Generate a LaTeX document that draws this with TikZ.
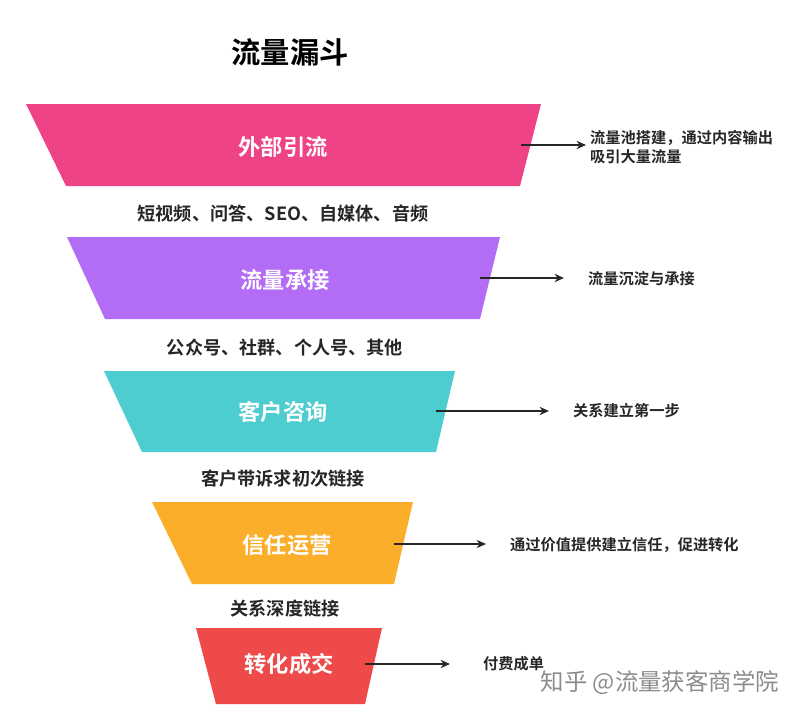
\documentclass[tikz,border=0pt]{standalone}
\usepackage{fontspec}
\setmainfont{Noto Sans CJK SC}[BoldFont={Noto Sans CJK SC Bold}]
\usetikzlibrary{arrows.meta}
\definecolor{stepa}{HTML}{EE4386}
\definecolor{stepb}{HTML}{B36CF5}
\definecolor{stepc}{HTML}{4ECDD0}
\definecolor{stepd}{HTML}{FBAE2A}
\definecolor{stepe}{HTML}{EE4A4A}
\tikzset{
  inlabel/.style={text=white,font=\fontsize{19}{22}\selectfont\bfseries},
  midlabel/.style={text=black!85,font=\fontsize{15.5}{18}\selectfont\bfseries},
  sidelabel/.style={text=black!85,font=\fontsize{13}{16}\selectfont\bfseries,anchor=west,align=left,inner sep=0pt},
  pointer/.style={-{Stealth[length=8pt,width=7pt]},line width=1.5pt,black!85},
}
\begin{document}
\begin{tikzpicture}[x=0.03cm,y=-0.03cm]
\useasboundingbox (0,0) rectangle (800,726);
%Title
\node[font=\fontsize{25}{28}\selectfont\bfseries] (title) at (290,52) {流量漏斗};

%Layers
\fill[stepa] (26,104) -- (541,104) -- (520,186) -- (66,186) -- cycle;
\fill[stepb] (67,237) -- (500,237) -- (480,319) -- (105,319) -- cycle;
\fill[stepc] (104,371) -- (455,371) -- (436,452) -- (142,452) -- cycle;
\fill[stepd] (152,502) -- (413,502) -- (394,584) -- (192,584) -- cycle;
\fill[stepe] (196,628) -- (382,628) -- (365,704) -- (216,704) -- cycle;

\node[inlabel] (la) at (283,147) {外部引流};
\node[inlabel] (lb) at (285,280) {流量承接};
\node[inlabel] (lc) at (283,412) {客户咨询};
\node[inlabel] (ld) at (287,545) {信任运营};
\node[inlabel] (le) at (289,664) {转化成交};

%Between layers
\node[midlabel] (ma) at (283,214) {短视频、问答、SEO、自媒体、音频};
\node[midlabel] (mb) at (285,348) {公众号、社群、个人号、其他};
\node[midlabel] (mc) at (283,479) {客户带诉求初次链接};
\node[midlabel] (md) at (285,609) {关系深度链接};

%Right side
\coordinate (ea) at (521,145);
\coordinate (eb) at (480,278);
\coordinate (ec) at (436,411);
\coordinate (ed) at (394,544);
\coordinate (ee) at (365,664);
\coordinate (ta) at (586,145);
\coordinate (tb) at (564,278);
\coordinate (tc) at (549,411);
\coordinate (td) at (486,544);
\coordinate (te) at (450,664);
\node[sidelabel] (sa) at (590,147) {流量池搭建，通过内容输出\\吸引大量流量};
\node[sidelabel] (sb) at (588,279) {流量沉淀与承接};
\node[sidelabel] (sc) at (573,411) {关系建立第一步};
\node[sidelabel] (sd) at (510,545) {通过价值提供建立信任，促进转化};
\node[sidelabel] (se) at (483,664) {付费成单};
\draw[pointer] (ea) -- (ta);
\draw[pointer] (eb) -- (tb);
\draw[pointer] (ec) -- (tc);
\draw[pointer] (ed) -- (td);
\draw[pointer] (ee) -- (te);

%Watermark
\node[text=black!45,font=\fontsize{20}{24}\selectfont] (mark) at (660,683) {知乎 @流量获客商学院};
\end{tikzpicture}
\end{document}
